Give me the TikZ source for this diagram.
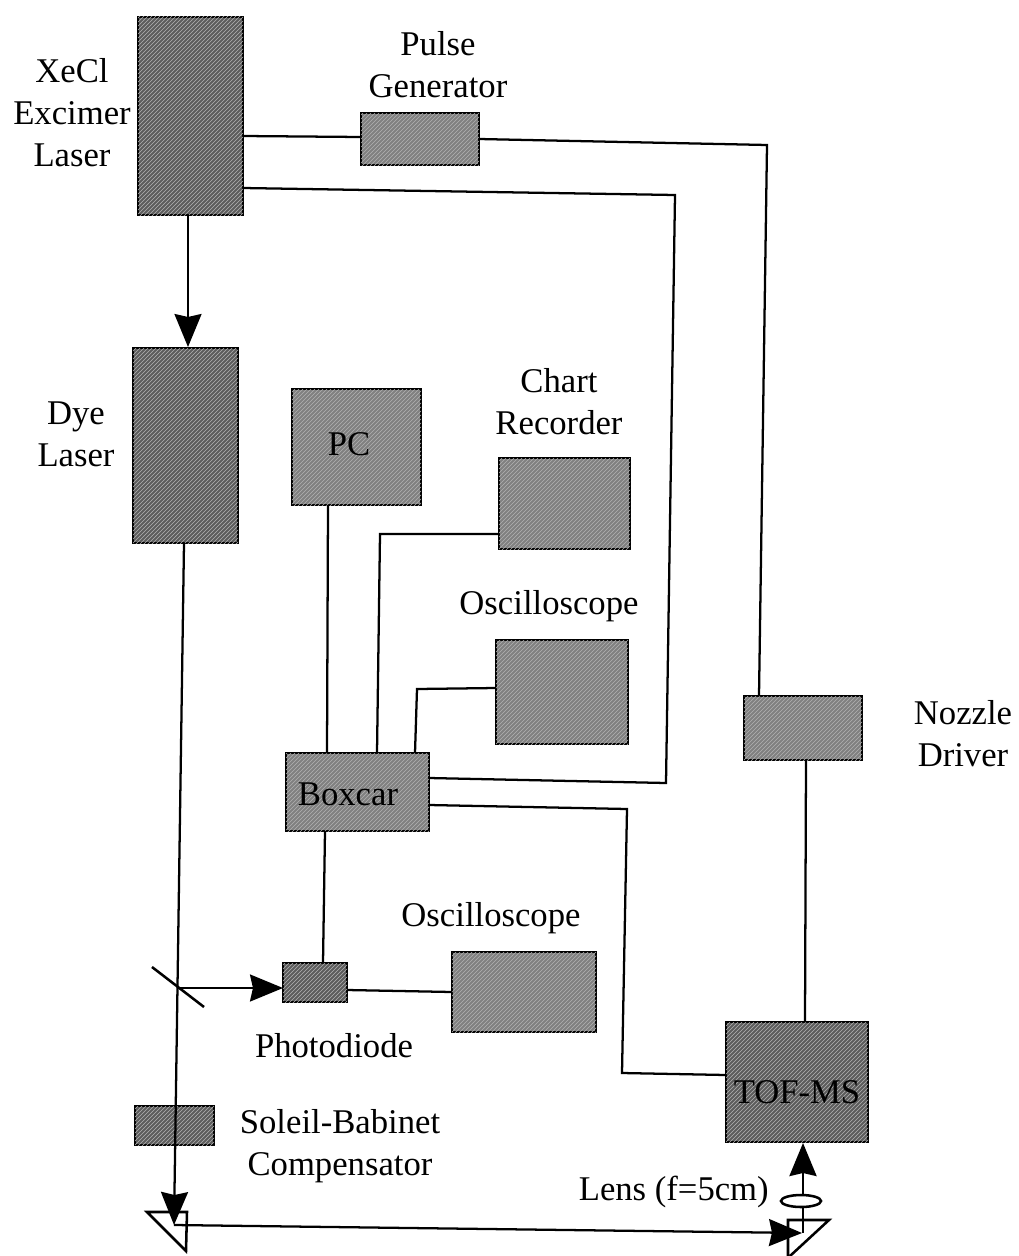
\documentclass[tikz,border=0pt]{standalone}
\usepackage{fontspec}
\setmainfont{Liberation Serif}
\usetikzlibrary{arrows.meta,patterns}
\tikzset{
  box/.style={draw=black,line width=2.1pt,fill=black!50,inner sep=0pt,outer sep=0pt,
    postaction={pattern=north east lines,pattern color=black!30}},
  darkbox/.style={box,fill=black!64},
  lbl/.style={font=\fontsize{26}{31.5}\selectfont,align=center,inner sep=0pt,text=black},
  wire/.style={draw=black,line width=1.7pt,line join=miter},
  beam/.style={wire,-{Stealth[length=33*0.75pt,width=27*0.75pt,inset=3*0.75pt]}},
}
\newcommand{\bx}[7][box]{\node[#1,minimum width=#6*0.75pt-#4*0.75pt,minimum height=#7*0.75pt-#5*0.75pt,anchor=north west] (#2) at (#4,#5) {#3};}
\begin{document}
\begin{tikzpicture}[x=0.75pt,y=-0.75pt]
\useasboundingbox (0,0) rectangle (1018,1256);
\bx[darkbox]{xecl}{}{138}{17}{243}{215}
\bx{pulse}{}{361}{113}{479}{165}
\bx[darkbox]{dye}{}{133}{348}{238}{543}
\bx{pc}{}{292}{389}{421}{505}
\bx{chart}{}{499}{458}{630}{549}
\bx{oscA}{}{496}{640}{628}{744}
\bx{nozzle}{}{744}{696}{862}{760}
\bx{boxcar}{}{286}{753}{429}{831}
\bx[darkbox]{diode}{}{283}{963}{347}{1002}
\bx{oscB}{}{452}{952}{596}{1032}
\bx[darkbox]{tof}{}{726}{1022}{868}{1142}
\bx[darkbox]{soleil}{}{135}{1106}{214}{1145}
% free corner points
\coordinate (a1) at (243,136);
\coordinate (a2) at (361,137);
\coordinate (b1) at (479,139);
\coordinate (b2) at (767,145);
\coordinate (b3) at (759,696);
\coordinate (c1) at (243,188);
\coordinate (c2) at (675,195);
\coordinate (c3) at (666,783);
\coordinate (c4) at (429,778);
\coordinate (d1) at (429,805);
\coordinate (d2) at (627,809);
\coordinate (d3) at (622,1073);
\coordinate (d4) at (726,1075);
\coordinate (e1) at (499,534);
\coordinate (e2) at (380,534);
\coordinate (e3) at (377,753);
\coordinate (f1) at (496,688);
\coordinate (f2) at (417,689);
\coordinate (f3) at (415,753);
\coordinate (g1) at (328,505);
\coordinate (g2) at (327,753);
\coordinate (h1) at (325,831);
\coordinate (h2) at (323,963);
\coordinate (i1) at (347,990);
\coordinate (i2) at (452,992);
\coordinate (j1) at (806,760);
\coordinate (j2) at (805,1022);
\coordinate (k1) at (188,215);
\coordinate (k2) at (188,347);
\coordinate (l1) at (184,543);
\coordinate (l2) at (174,1225);
\coordinate (m0) at (178,988);
\coordinate (m1) at (283,988);
\coordinate (n1) at (174,1225);
\coordinate (n2) at (802,1233);
\coordinate (o1) at (803,1233);
\coordinate (o2) at (803,1143);
\draw[wire] (a1) -- (a2);
\draw[wire] (b1) -- (b2) -- (b3);
\draw[wire] (c1) -- (c2) -- (c3) -- (c4);
\draw[wire] (d1) -- (d2) -- (d3) -- (d4);
\draw[wire] (e1) -- (e2) -- (e3);
\draw[wire] (f1) -- (f2) -- (f3);
\draw[wire] (g1) -- (g2);
\draw[wire] (h1) -- (h2);
\draw[wire] (i1) -- (i2);
\draw[wire] (j1) -- (j2);
\draw[beam] (k1) -- (k2);
\draw[beam] (l1) -- (l2);
\draw[beam] (m0) -- (m1);
\draw[beam] (n1) -- (n2);
\draw[beam,line width=2.1pt] (o1) -- (o2);
% mirror
\draw[wire,line width=1.9pt] (152,967) -- (204,1007);
% prisms
\draw[wire,line width=1.9pt] (147,1212) -- (187,1212) -- (186,1251) -- cycle;
\draw[wire,line width=1.9pt] (788,1256) -- (788,1220) -- (829,1220) -- (790,1256);
% lens
\draw[wire,line width=1.9pt,fill=white] (801,1201) ellipse [x radius=20,y radius=6];
\draw[wire,line width=2.1pt] (803,1207) -- (803,1220);
% labels
\node[lbl] (txA) at (72,113) {XeCl\\Excimer\\Laser};
\node[lbl] (txB) at (438,65) {Pulse\\Generator};
\node[lbl] (txC) at (76,434) {Dye\\Laser};
\node[lbl] (txD) at (559,402) {Chart\\Recorder};
\node[lbl] (txE) at (549,606) {Oscilloscope};
\node[lbl] (txF) at (963,734) {Nozzle\\Driver};
\node[lbl] (txG) at (491,918) {Oscilloscope};
\node[lbl] (txH) at (334,1046) {Photodiode};
\node[lbl] (txI) at (340,1146) {Soleil-Babinet\\Compensator};
\node[lbl,anchor=east] (txJ) at (769,1192) {Lens (f=5cm)};
\node[lbl] (txK) at (349,444) {PC};
\node[lbl] (txL) at (348,794) {Boxcar};
\node[lbl] (txM) at (797,1092) {TOF-MS};
\end{tikzpicture}
\end{document}
